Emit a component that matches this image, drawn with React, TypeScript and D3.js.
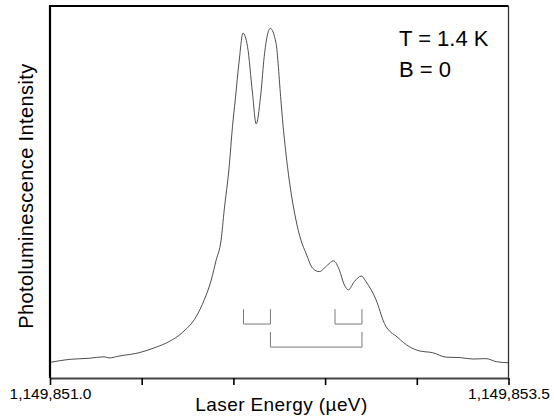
import React, { useEffect, useRef } from 'react';
import * as d3 from 'd3';

// laser energy (ueV) and PL intensity (arb. units)
const energy = [
  1149851.0, 1149851.104, 1149851.213, 1149851.295, 1149851.322, 1149851.377,
  1149851.486, 1149851.579, 1149851.65, 1149851.721, 1149851.797, 1149851.841,
  1149851.879, 1149851.906, 1149851.933, 1149851.95, 1149851.977, 1149851.995,
  1149852.01, 1149852.032, 1149852.052, 1149852.077, 1149852.104, 1149852.124,
  1149852.15, 1149852.168, 1149852.201, 1149852.232, 1149852.259, 1149852.268,
  1149852.295, 1149852.341, 1149852.368, 1149852.396, 1149852.432, 1149852.468,
  1149852.514, 1149852.546, 1149852.578, 1149852.605, 1149852.627, 1149852.659,
  1149852.698, 1149852.723, 1149852.778, 1149852.823, 1149852.896, 1149852.96,
  1149853.014, 1149853.087, 1149853.16, 1149853.233, 1149853.305, 1149853.378,
  1149853.433, 1149853.5,
];
const intensity = [
  0.042, 0.05, 0.053, 0.057, 0.054, 0.059,
  0.068, 0.083, 0.098, 0.122, 0.165, 0.21,
  0.263, 0.317, 0.371, 0.452, 0.568, 0.676,
  0.747, 0.855, 0.927, 0.891, 0.766, 0.683,
  0.766, 0.864, 0.94, 0.901, 0.747, 0.694,
  0.568, 0.425, 0.371, 0.335, 0.295, 0.286,
  0.304, 0.315, 0.29, 0.25, 0.237, 0.259,
  0.274, 0.259, 0.21, 0.147, 0.109, 0.084,
  0.073, 0.068, 0.056, 0.055, 0.051, 0.052,
  0.044, 0.041,
];

// peak positions joined by the splitting brackets
const peaks = [1149852.055, 1149852.202, 1149852.554, 1149852.701];
const brackets = [
  { from: 0, to: 1, top: 0.185, bottom: 0.145 },
  { from: 2, to: 3, top: 0.185, bottom: 0.145 },
  { from: 1, to: 3, top: 0.124, bottom: 0.083 },
];

const xTicks = [1149851.0, 1149851.5, 1149852.0, 1149852.5, 1149853.0, 1149853.5];
const notes = ['T = 1.4 K', 'B = 0'];

const font = '"Liberation Sans", Arial, sans-serif';

const App = () => {
  const ref = useRef<SVGSVGElement>(null);

  useEffect(() => {
    const width = 554;
    const height = 419;
    const left = 50;
    const right = 508.5;
    const top = 6;
    const bottom = 378;

    const svg = d3.select(ref.current);
    svg.selectAll('*').remove();
    svg.attr('width', width).attr('height', height);

    const x = d3.scaleLinear().domain([xTicks[0], xTicks[xTicks.length - 1]]).range([left, right]);
    const y = d3.scaleLinear().domain([0, 1]).range([bottom, top]);

    const data = energy.map((e, i) => [e, intensity[i]] as [number, number]);

    const line = d3
      .line<[number, number]>()
      .x((d) => x(d[0]))
      .y((d) => y(d[1]))
      .curve(d3.curveMonotoneX);

    svg
      .append('path')
      .datum(data)
      .attr('fill', 'none')
      .attr('stroke', '#3a3a3a')
      .attr('stroke-width', 0.9)
      .attr('d', line);

    // brackets
    brackets.forEach((b) => {
      const x0 = x(peaks[b.from]);
      const x1 = x(peaks[b.to]);
      svg
        .append('path')
        .attr('fill', 'none')
        .attr('stroke', '#7a7a7a')
        .attr('stroke-width', 1)
        .attr('d', `M${x0},${y(b.top)}V${y(b.bottom)}H${x1}V${y(b.top)}`);
    });

    // frame
    svg.append('line').attr('x1', left).attr('x2', right).attr('y1', top).attr('y2', top)
      .attr('stroke', '#000').attr('stroke-width', 2.2);
    svg.append('line').attr('x1', right).attr('x2', right).attr('y1', top).attr('y2', bottom)
      .attr('stroke', '#333').attr('stroke-width', 1.3);
    svg.append('line').attr('x1', left).attr('x2', left).attr('y1', top - 1).attr('y2', bottom)
      .attr('stroke', '#000').attr('stroke-width', 2.2);

    const axis = d3
      .axisBottom(x)
      .tickValues(xTicks)
      .tickSize(7)
      .tickSizeOuter(0)
      .tickFormat((d, i) => (i === 0 || i === xTicks.length - 1 ? d3.format(',.1f')(d as number) : ''));

    const g = svg.append('g').attr('transform', `translate(0,${bottom})`).call(axis);
    g.select('.domain').attr('stroke', '#444').attr('stroke-width', 2);
    g.selectAll('.tick line').attr('stroke', '#000').attr('stroke-width', 1.6);
    g.selectAll('.tick text')
      .attr('y', 21)
      .attr('dy', null)
      .attr('fill', '#000')
      .style('font-family', font)
      .style('font-size', '15.5px');

    svg
      .append('text')
      .attr('x', 281.5)
      .attr('y', 411)
      .attr('text-anchor', 'middle')
      .style('font-family', font)
      .style('font-size', '19px')
      .style('letter-spacing', '0.4px')
      .text('Laser Energy (\u00b5eV)');

    svg
      .append('text')
      .attr('transform', `translate(33,196) rotate(-90)`)
      .attr('text-anchor', 'middle')
      .style('font-family', font)
      .style('font-size', '20px')
      .style('letter-spacing', '0.4px')
      .text('Photoluminescence Intensity');

    svg
      .selectAll('text.note')
      .data(notes)
      .enter()
      .append('text')
      .attr('class', 'note')
      .attr('x', 399)
      .attr('y', (d, i) => 46 + i * 31)
      .style('font-family', font)
      .style('font-size', '22px')
      .text((d) => d);
  }, []);

  return (
    <div style={{ position: 'absolute', left: 0, top: 0 }}>
      <svg ref={ref} style={{ display: 'block' }} />
    </div>
  );
};

export default App;
